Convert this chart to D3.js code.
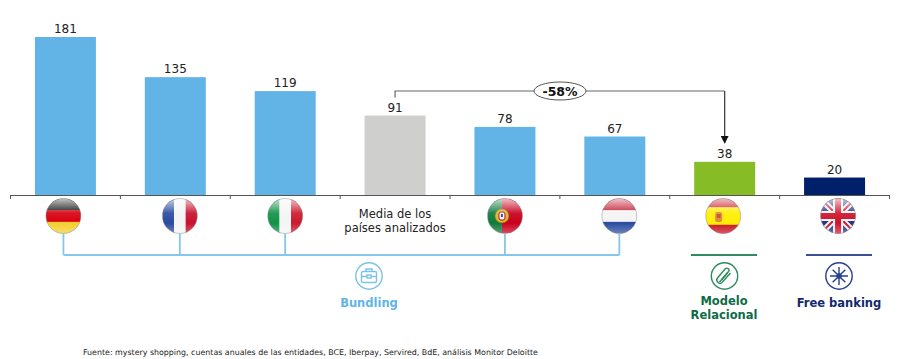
<!DOCTYPE html>
<html>
<head>
<meta charset="utf-8">
<script src="https://cdn.jsdelivr.net/npm/d3@7"></script>
<style>
  html, body { margin: 0; padding: 0; background: #fff; }
  svg { display: block; }
  text { font-family: "DejaVu Sans", Verdana, sans-serif; }
</style>
</head>
<body>
<div id="container"></div>
<script>
let countries = ["Alemania", "Francia", "Italia", "Media", "Portugal", "Holanda", "España", "Reino Unido"];
let values = [181, 135, 119, 91, 78, 67, 38, 20];
let barColors = ["#62b4e6", "#62b4e6", "#62b4e6", "#cfcfcd", "#62b4e6", "#62b4e6", "#86bc25", "#00206a"];
let mediaLines = ["Media de los", "países analizados"];
let footnote = "Fuente: mystery shopping, cuentas anuales de las entidades, BCE, Iberpay, Servired, BdE, análisis Monitor Deloitte";

let w = 900;
let h = 359;
let axisY = 195;

let svg = d3.select("#container").append("svg")
  .attr("width", w)
  .attr("height", h);

let defs = svg.append("defs");

let xScale = d3.scaleBand().domain(countries).range([10.5, 889.5]).paddingInner(0.445).paddingOuter(0.2225);
let yScale = d3.scaleLinear().domain([0, 181]).range([axisY, 37]);
let tickScale = d3.scaleLinear().domain([0, countries.length]).range([10, 889]);

// bars
svg.selectAll(".bar").data(countries).enter()
  .append("rect")
  .attr("class", "bar")
  .attr("x", d => xScale(d))
  .attr("y", (d, i) => yScale(values[i]))
  .attr("width", xScale.bandwidth())
  .attr("height", (d, i) => axisY - yScale(values[i]))
  .attr("fill", (d, i) => barColors[i]);

svg.selectAll(".val").data(countries).enter()
  .append("text")
  .attr("class", "val")
  .attr("x", d => xScale(d) + xScale.bandwidth() / 2)
  .attr("y", (d, i) => yScale(values[i]) - 4)
  .attr("text-anchor", "middle")
  .attr("font-size", 12)
  .attr("fill", "#222")
  .text((d, i) => values[i]);

// axis, ticks sit between the bars
let xAxis = d3.axisBottom(tickScale).ticks(countries.length).tickSize(4).tickSizeOuter(4).tickFormat("");
let axisGroup = svg.append("g").attr("transform", "translate(0," + axisY + ")").call(xAxis);
axisGroup.selectAll("path, line").attr("stroke", "#555").attr("stroke-width", 1);

// flags
let flagY = 216;
let flagR = 17.5;
let glossTop = defs.append("linearGradient").attr("id", "gloss").attr("x1", 0).attr("x2", 0).attr("y1", 0).attr("y2", 1);
glossTop.append("stop").attr("offset", 0).attr("stop-color", "#fff").attr("stop-opacity", 0.75);
glossTop.append("stop").attr("offset", 0.42).attr("stop-color", "#fff").attr("stop-opacity", 0.08);
glossTop.append("stop").attr("offset", 0.7).attr("stop-color", "#fff").attr("stop-opacity", 0);
glossTop.append("stop").attr("offset", 1).attr("stop-color", "#fff").attr("stop-opacity", 0.3);
defs.append("clipPath").attr("id", "flagClip").append("circle").attr("r", flagR);

function hStripes(g, colors) {
  let n = colors.length;
  colors.forEach(function (c, i) {
    g.append("rect").attr("x", -flagR).attr("y", -flagR + i * 2 * flagR / n)
      .attr("width", 2 * flagR).attr("height", 2 * flagR / n + 0.5).attr("fill", c);
  });
}
function vStripes(g, colors) {
  let n = colors.length;
  colors.forEach(function (c, i) {
    g.append("rect").attr("y", -flagR).attr("x", -flagR + i * 2 * flagR / n)
      .attr("height", 2 * flagR).attr("width", 2 * flagR / n + 0.5).attr("fill", c);
  });
}

let flagPainters = {
  "Alemania": g => hStripes(g, ["#111", "#d8000f", "#f5cf2e"]),
  "Francia": g => vStripes(g, ["#2a4ba0", "#f4f4f4", "#c8102e"]),
  "Italia": g => vStripes(g, ["#119247", "#f4f4f4", "#cc1a2d"]),
  "Portugal": function (g) {
    g.append("rect").attr("x", -flagR).attr("y", -flagR).attr("width", 14.5).attr("height", 35).attr("fill", "#0f7a3c");
    g.append("rect").attr("x", -3).attr("y", -flagR).attr("width", 21).attr("height", 35).attr("fill", "#c8001c");
    g.append("circle").attr("cx", -3).attr("r", 7).attr("fill", "#d8b62e").attr("stroke", "#8c6a12").attr("stroke-width", 0.6);
    g.append("rect").attr("x", -6).attr("y", -4).attr("width", 6).attr("height", 8).attr("rx", 2).attr("fill", "#f4f4f4").attr("stroke", "#c8001c").attr("stroke-width", 1);
    g.append("rect").attr("x", -4).attr("y", -2).attr("width", 2).attr("height", 3).attr("fill", "#2a4ba0");
  },
  "Holanda": g => hStripes(g, ["#c0182e", "#f4f4f4", "#2a4ba0"]),
  "España": function (g) {
    hStripes(g, ["#c8101e", "#ffee00", "#ffee00", "#c8101e"]);
    g.append("rect").attr("x", -8).attr("y", -4).attr("width", 7).attr("height", 10).attr("rx", 2).attr("fill", "#e08a3a");
    g.append("rect").attr("x", -6.5).attr("y", -2).attr("width", 4).attr("height", 4).attr("fill", "#c9502a");
  },
  "Reino Unido": function (g) {
    g.append("rect").attr("x", -flagR).attr("y", -flagR).attr("width", 35).attr("height", 35).attr("fill", "#27367f");
    g.append("path").attr("d", "M-17,-17L17,17M17,-17L-17,17").attr("stroke", "#f4f4f4").attr("stroke-width", 6);
    g.append("path").attr("d", "M-17,-17L17,17M17,-17L-17,17").attr("stroke", "#cf142b").attr("stroke-width", 2);
    g.append("path").attr("d", "M0,-18V18M-18,0H18").attr("stroke", "#f4f4f4").attr("stroke-width", 10);
    g.append("path").attr("d", "M0,-18V18M-18,0H18").attr("stroke", "#cf142b").attr("stroke-width", 6);
  }
};

// the flags and stems are not quite centred under the bars in the original
let flagNudge = { "Alemania": -2, "Francia": 4.5, "Italia": 0, "Portugal": 0, "Holanda": 4.5, "España": -1.5, "Reino Unido": 3.5 };
function flagX(c) { return xScale(c) + xScale.bandwidth() / 2 + flagNudge[c]; }

countries.filter(c => c != "Media").forEach(function (c) {
  let g = svg.append("g").attr("transform", "translate(" + flagX(c) + "," + flagY + ")");
  let inner = g.append("g").attr("clip-path", "url(#flagClip)");
  flagPainters[c](inner);
  inner.append("circle").attr("r", flagR).attr("fill", "url(#gloss)");
  g.append("circle").attr("r", flagR).attr("fill", "none").attr("stroke", "#888").attr("stroke-opacity", 0.6).attr("stroke-width", 0.8);
});

// centre label
svg.selectAll(".media").data(mediaLines).enter()
  .append("text")
  .attr("class", "media")
  .attr("x", xScale("Media") + xScale.bandwidth() / 2)
  .attr("y", (d, i) => 218 + i * 14)
  .attr("text-anchor", "middle")
  .attr("font-size", 11.5)
  .attr("fill", "#222")
  .text(d => d);

// -58% bracket
let fromX = xScale("Media") + xScale.bandwidth() / 2;
let toX = xScale("España") + xScale.bandwidth() / 2;
let bracketY = 91;
defs.append("marker").attr("id", "arrow").attr("viewBox", "0 0 8 8").attr("refX", 7).attr("refY", 4)
  .attr("markerWidth", 8).attr("markerHeight", 8).attr("markerUnits", "userSpaceOnUse").attr("orient", "auto")
  .append("path").attr("d", "M0,0L8,4L0,8Z").attr("fill", "#111");
svg.append("path")
  .attr("d", "M" + fromX + "," + (yScale(91) - 18) + "V" + bracketY + "H" + toX)
  .attr("fill", "none").attr("stroke", "#666").attr("stroke-width", 1.2);
svg.append("path")
  .attr("d", "M" + toX + "," + bracketY + "V" + (yScale(38) - 19))
  .attr("fill", "none").attr("stroke", "#333").attr("stroke-width", 1.2).attr("marker-end", "url(#arrow)");
svg.append("ellipse")
  .attr("cx", 560).attr("cy", bracketY).attr("rx", 26).attr("ry", 9)
  .attr("fill", "#fff").attr("stroke", "#555").attr("stroke-width", 1);
svg.append("text").attr("x", 560).attr("y", bracketY + 4.5)
  .attr("text-anchor", "middle").attr("font-size", 12.5).attr("font-weight", "bold").attr("fill", "#111")
  .text("-58%");

// grouping lines
let lineY = 255;
let bundling = ["Alemania", "Francia", "Italia", "Portugal", "Holanda"];
svg.append("path")
  .attr("d", "M" + flagX("Alemania") + "," + lineY + "H" + flagX("Holanda"))
  .attr("stroke", "#85c6ec").attr("stroke-width", 1.8).attr("fill", "none");
svg.selectAll(".stem").data(bundling).enter()
  .append("line")
  .attr("class", "stem")
  .attr("x1", d => flagX(d)).attr("x2", d => flagX(d))
  .attr("y1", flagY + flagR).attr("y2", lineY)
  .attr("stroke", "#85c6ec").attr("stroke-width", 1.8);
svg.append("line").attr("x1", 691).attr("x2", 757).attr("y1", lineY).attr("y2", lineY).attr("stroke", "#2f8a5f").attr("stroke-width", 1.8);
svg.append("line").attr("x1", 806).attr("x2", 872).attr("y1", lineY).attr("y2", lineY).attr("stroke", "#3a5096").attr("stroke-width", 1.8);

// group icons
function icon(x, color) {
  let g = svg.append("g").attr("transform", "translate(" + x + ",276)")
    .attr("fill", "none").attr("stroke", color).attr("stroke-width", 1.4);
  g.append("circle").attr("r", 13.2);
  return g;
}
let bag = icon(369, "#7cc2ea");
bag.append("rect").attr("x", -7.5).attr("y", -4.5).attr("width", 15).attr("height", 11).attr("rx", 1.5);
bag.append("path").attr("d", "M-3,-4.5V-7H3V-4.5M-7.5,0.5H-2M2,0.5H7.5M-2,-1H2V2H-2Z");

let clip = icon(724.5, "#2f8a5f");
clip.append("path").attr("d", "M-5,6L4,-4.5C6,-7 2.5,-9 0.5,-7L-7,2C-9.5,5 -5,9 -2.5,6.5L6,-3");
clip.append("path").attr("d", "M-3,4L3,-3");

let star = icon(839, "#25408f");
star.append("path").attr("d", d3.range(8).map(function (i) {
  let a = i * Math.PI / 4;
  return "M" + (2 * Math.cos(a)) + "," + (2 * Math.sin(a)) + "L" + (9 * Math.cos(a)) + "," + (9 * Math.sin(a));
}).join(""));
star.append("circle").attr("r", 2).attr("fill", "#25408f");

// group names
function groupLabel(x, y, txt, color) {
  svg.append("text").attr("x", x).attr("y", y).attr("text-anchor", "middle")
    .attr("font-size", 11.5).attr("font-weight", "bold").attr("fill", color).text(txt);
}
groupLabel(369, 307, "Bundling", "#62b4e6");
groupLabel(724, 305, "Modelo", "#0f6b45");
groupLabel(724, 319, "Relacional", "#0f6b45");
groupLabel(839, 307, "Free banking", "#12296e");

svg.append("text").attr("x", 83).attr("y", 355)
  .attr("font-size", 7.9).attr("fill", "#222").text(footnote);
</script>
</body>
</html>
